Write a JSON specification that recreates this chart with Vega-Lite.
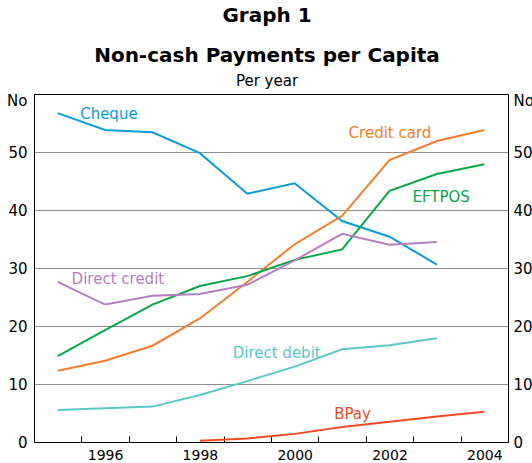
{
  "$schema": "https://vega.github.io/schema/vega-lite/v6.json",
  "width": 474,
  "height": 348,
  "autosize": {"type": "none"},
  "padding": {"left": 34, "top": 94, "right": 24, "bottom": 21},
  "background": "white",
  "config": {
    "view": {"stroke": "#000000", "strokeWidth": 1},
    "font": "DejaVu Sans"
  },
  "title": {
    "text": ["Graph 1", "Non-cash Payments per Capita"],
    "subtitle": "Per year",
    "font": "DejaVu Sans",
    "fontSize": 20,
    "fontWeight": "bold",
    "color": "#000000",
    "lineHeight": 40,
    "subtitleFont": "DejaVu Sans",
    "subtitleFontSize": 15,
    "subtitleColor": "#000000",
    "subtitlePadding": 8,
    "anchor": "middle",
    "frame": "group",
    "dx": -4,
    "offset": 4
  },
  "datasets": {
    "series": [
      {"series": "Cheque", "year": 1995, "value": 56.7},
      {"series": "Cheque", "year": 1996, "value": 53.8},
      {"series": "Cheque", "year": 1997, "value": 53.4},
      {"series": "Cheque", "year": 1998, "value": 49.8},
      {"series": "Cheque", "year": 1999, "value": 42.8},
      {"series": "Cheque", "year": 2000, "value": 44.6},
      {"series": "Cheque", "year": 2001, "value": 38.1},
      {"series": "Cheque", "year": 2002, "value": 35.4},
      {"series": "Cheque", "year": 2003, "value": 30.6},
      {"series": "Credit card", "year": 1995, "value": 12.3},
      {"series": "Credit card", "year": 1996, "value": 14.0},
      {"series": "Credit card", "year": 1997, "value": 16.6},
      {"series": "Credit card", "year": 1998, "value": 21.3},
      {"series": "Credit card", "year": 1999, "value": 27.6},
      {"series": "Credit card", "year": 2000, "value": 34.1},
      {"series": "Credit card", "year": 2001, "value": 39.0},
      {"series": "Credit card", "year": 2002, "value": 48.6},
      {"series": "Credit card", "year": 2003, "value": 51.9},
      {"series": "Credit card", "year": 2004, "value": 53.8},
      {"series": "EFTPOS", "year": 1995, "value": 14.8},
      {"series": "EFTPOS", "year": 1996, "value": 19.3},
      {"series": "EFTPOS", "year": 1997, "value": 23.7},
      {"series": "EFTPOS", "year": 1998, "value": 26.9},
      {"series": "EFTPOS", "year": 1999, "value": 28.6},
      {"series": "EFTPOS", "year": 2000, "value": 31.4},
      {"series": "EFTPOS", "year": 2001, "value": 33.2},
      {"series": "EFTPOS", "year": 2002, "value": 43.3},
      {"series": "EFTPOS", "year": 2003, "value": 46.2},
      {"series": "EFTPOS", "year": 2004, "value": 47.9},
      {"series": "Direct credit", "year": 1995, "value": 27.6},
      {"series": "Direct credit", "year": 1996, "value": 23.7},
      {"series": "Direct credit", "year": 1997, "value": 25.2},
      {"series": "Direct credit", "year": 1998, "value": 25.5},
      {"series": "Direct credit", "year": 1999, "value": 27.1},
      {"series": "Direct credit", "year": 2000, "value": 31.3},
      {"series": "Direct credit", "year": 2001, "value": 35.9},
      {"series": "Direct credit", "year": 2002, "value": 34.0},
      {"series": "Direct credit", "year": 2003, "value": 34.5},
      {"series": "Direct debit", "year": 1995, "value": 5.5},
      {"series": "Direct debit", "year": 1996, "value": 5.8},
      {"series": "Direct debit", "year": 1997, "value": 6.1},
      {"series": "Direct debit", "year": 1998, "value": 8.1},
      {"series": "Direct debit", "year": 1999, "value": 10.5},
      {"series": "Direct debit", "year": 2000, "value": 13.0},
      {"series": "Direct debit", "year": 2001, "value": 16.0},
      {"series": "Direct debit", "year": 2002, "value": 16.7},
      {"series": "Direct debit", "year": 2003, "value": 17.9},
      {"series": "BPay", "year": 1998, "value": 0.2},
      {"series": "BPay", "year": 1999, "value": 0.6},
      {"series": "BPay", "year": 2000, "value": 1.4},
      {"series": "BPay", "year": 2001, "value": 2.6},
      {"series": "BPay", "year": 2002, "value": 3.5},
      {"series": "BPay", "year": 2003, "value": 4.4},
      {"series": "BPay", "year": 2004, "value": 5.2}
    ],
    "labels": [
      {"series": "Cheque", "year": 1996.08, "value": 56.55},
      {"series": "Credit card", "year": 2002.01, "value": 53.2},
      {"series": "EFTPOS", "year": 2003.09, "value": 42.3},
      {"series": "Direct credit", "year": 1996.27, "value": 28.05},
      {"series": "Direct debit", "year": 1999.62, "value": 15.4},
      {"series": "BPay", "year": 2001.22, "value": 4.8}
    ]
  },
  "layer": [
    {
      "data": {"name": "series"},
      "mark": {"type": "line", "strokeWidth": 2, "clip": true},
      "encoding": {
        "x": {
          "field": "year",
          "type": "quantitative",
          "scale": {"domain": [1994.5, 2004.5], "nice": false, "zero": false},
          "axis": {
            "orient": "bottom",
            "title": null,
            "values": [1995.5, 1996.5, 1997.5, 1998.5, 1999.5, 2000.5, 2001.5, 2002.5, 2003.5],
            "labelExpr": "(floor(datum.value) + 1) % 2 == 0 ? '' + (floor(datum.value) + 1) : ''",
            "labelOffset": 23.7,
            "labelFont": "DejaVu Sans",
            "labelFontSize": 14,
            "labelColor": "#000000",
            "labelPadding": 12,
            "labelFlush": false,
            "labelOverlap": false,
            "tickSize": -6,
            "tickColor": "#000000",
            "tickWidth": 1,
            "domainColor": "#000000",
            "domainWidth": 1,
            "grid": false
          }
        },
        "y": {
          "field": "value",
          "type": "quantitative",
          "scale": {"domain": [0, 60], "nice": false},
          "axis": {
            "orient": "left",
            "values": [0, 10, 20, 30, 40, 50],
            "title": "No",
            "titleAngle": 0,
            "titleAlign": "right",
            "titleBaseline": "middle",
            "titleX": -7,
            "titleY": 6,
            "titleFont": "DejaVu Sans",
            "titleFontSize": 15,
            "titleFontWeight": "normal",
            "titleColor": "#000000",
            "labelFont": "DejaVu Sans",
            "labelFontSize": 15,
            "labelColor": "#000000",
            "labelPadding": 7,
            "ticks": false,
            "domainColor": "#000000",
            "grid": true,
            "gridColor": "#909090",
            "gridWidth": 1
          }
        },
        "color": {
          "field": "series",
          "type": "nominal",
          "scale": {
            "domain": ["Cheque", "Credit card", "EFTPOS", "Direct credit", "Direct debit", "BPay"],
            "range": ["#0d9ad8", "#f47c2c", "#0aa64a", "#b47fc0", "#5cc6c8", "#ee4b23"]
          },
          "legend": null
        }
      }
    },
    {
      "data": {"name": "labels"},
      "mark": {"type": "text", "font": "DejaVu Sans", "fontSize": 15, "align": "center", "baseline": "middle"},
      "encoding": {
        "x": {"field": "year", "type": "quantitative"},
        "y": {
          "field": "value",
          "type": "quantitative",
          "axis": {
            "orient": "right",
            "values": [0, 10, 20, 30, 40, 50],
            "title": "No",
            "titleAngle": 0,
            "titleAlign": "left",
            "titleBaseline": "middle",
            "titleX": 5,
            "titleY": 6,
            "titleFont": "DejaVu Sans",
            "titleFontSize": 15,
            "titleFontWeight": "normal",
            "titleColor": "#000000",
            "labelFont": "DejaVu Sans",
            "labelFontSize": 15,
            "labelColor": "#000000",
            "labelPadding": 5,
            "ticks": false,
            "domainColor": "#000000",
            "grid": false
          }
        },
        "text": {"field": "series", "type": "nominal"},
        "color": {"field": "series", "type": "nominal", "legend": null}
      }
    }
  ],
  "resolve": {"axis": {"y": "independent"}}
}
